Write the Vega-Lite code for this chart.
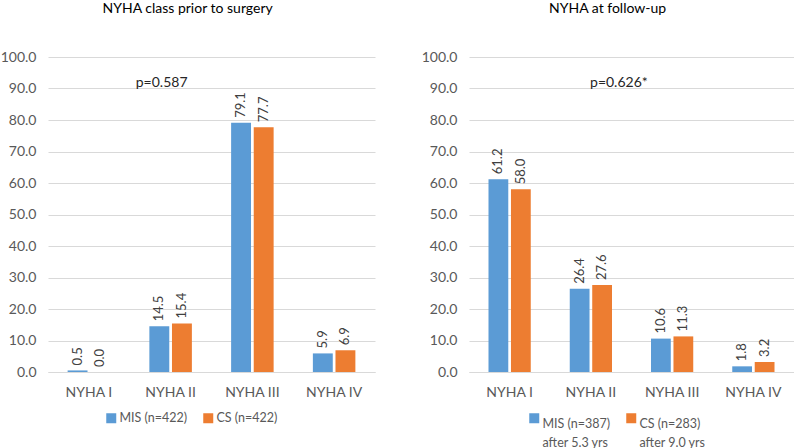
{
  "$schema": "https://vega.github.io/schema/vega-lite/v6.json",
  "background": "white",
  "padding": {"left": 0, "top": 2, "right": 0, "bottom": 0},
  "datasets": {
    "pre": [
      {"cls": "NYHA I", "series": "MIS (n=422)", "value": 0.5},
      {"cls": "NYHA I", "series": "CS (n=422)", "value": 0.0},
      {"cls": "NYHA II", "series": "MIS (n=422)", "value": 14.5},
      {"cls": "NYHA II", "series": "CS (n=422)", "value": 15.4},
      {"cls": "NYHA III", "series": "MIS (n=422)", "value": 79.1},
      {"cls": "NYHA III", "series": "CS (n=422)", "value": 77.7},
      {"cls": "NYHA IV", "series": "MIS (n=422)", "value": 5.9},
      {"cls": "NYHA IV", "series": "CS (n=422)", "value": 6.9}
    ],
    "post": [
      {"cls": "NYHA I", "series": "MIS (n=387)", "value": 61.2},
      {"cls": "NYHA I", "series": "CS (n=283)", "value": 58.0},
      {"cls": "NYHA II", "series": "MIS (n=387)", "value": 26.4},
      {"cls": "NYHA II", "series": "CS (n=283)", "value": 27.6},
      {"cls": "NYHA III", "series": "MIS (n=387)", "value": 10.6},
      {"cls": "NYHA III", "series": "CS (n=283)", "value": 11.3},
      {"cls": "NYHA IV", "series": "MIS (n=387)", "value": 1.8},
      {"cls": "NYHA IV", "series": "CS (n=283)", "value": 3.2}
    ]
  },
  "config": {
    "font": "Lato",
    "view": {"stroke": null},
    "title": {"fontSize": 14, "fontWeight": "normal", "color": "#000000", "font": "Lato", "frame": "bounds", "anchor": "middle", "offset": 34},
    "axis": {"labelFont": "Lato", "labelFontSize": 14, "labelColor": "#595959", "ticks": false, "title": null},
    "legend": {"labelFont": "Lato", "labelFontSize": 12.5, "labelColor": "#595959", "symbolType": "square", "symbolSize": 100, "symbolStrokeWidth": 0, "labelOffset": 2, "columnPadding": 14, "gridAlign": "none", "title": null, "orient": "none", "direction": "horizontal"},
    "style": {"guide-label": {"lineHeight": 19}}
  },
  "spacing": 46,
  "resolve": {"scale": {"color": "independent", "xOffset": "independent", "y": "independent"}, "legend": {"color": "independent"}},
  "hconcat": [
    {
      "title": "NYHA class prior to surgery",
      "width": 327,
      "height": 315,
      "data": {"name": "pre"},
      "encoding": {
        "x": {"field": "cls", "type": "nominal", "scale": {"domain": ["NYHA I", "NYHA II", "NYHA III", "NYHA IV"], "paddingInner": 0.48, "paddingOuter": 0.24}, "axis": {"labelAngle": 0, "labelPadding": 13, "domain": true, "domainColor": "#D9D9D9", "grid": false}},
        "y": {"field": "value", "type": "quantitative", "scale": {"domain": [0, 100]}, "axis": {"values": [0, 10, 20, 30, 40, 50, 60, 70, 80, 90, 100], "format": ".1f", "grid": true, "gridColor": "#D9D9D9", "domain": false, "labelPadding": 12}}
      },
      "layer": [
        {
          "mark": {"type": "bar"},
          "encoding": {
            "xOffset": {"field": "series", "type": "nominal", "scale": {"domain": ["MIS (n=422)", "CS (n=422)"], "paddingInner": 0.12}},
            "color": {"field": "series", "type": "nominal", "scale": {"domain": ["MIS (n=422)", "CS (n=422)"], "range": ["#5B9BD5", "#ED7D31"]}, "legend": {"legendX": 57, "legendY": 355}}
          }
        },
        {
          "mark": {"type": "text", "angle": 270, "align": "left", "baseline": "middle", "dx": 5, "fontSize": 13, "color": "#404040"},
          "encoding": {
            "xOffset": {"field": "series", "type": "nominal", "scale": {"domain": ["MIS (n=422)", "CS (n=422)"], "paddingInner": 0.12}},
            "text": {"field": "value", "type": "quantitative", "format": ".1f"}
          }
        },
        {
          "data": {"values": [{"cls": "NYHA II", "value": 91.6, "t": "p=0.587"}]},
          "mark": {"type": "text", "dx": -9, "fontSize": 14, "fontWeight": "normal", "color": "#262626"},
          "encoding": {"text": {"field": "t"}}
        }
      ]
    },
    {
      "title": "NYHA at follow-up",
      "width": 325,
      "height": 315,
      "data": {"name": "post"},
      "encoding": {
        "x": {"field": "cls", "type": "nominal", "scale": {"domain": ["NYHA I", "NYHA II", "NYHA III", "NYHA IV"], "paddingInner": 0.48, "paddingOuter": 0.24}, "axis": {"labelAngle": 0, "labelPadding": 13, "domain": true, "domainColor": "#D9D9D9", "grid": false}},
        "y": {"field": "value", "type": "quantitative", "scale": {"domain": [0, 100]}, "axis": {"values": [0, 10, 20, 30, 40, 50, 60, 70, 80, 90, 100], "format": ".1f", "grid": true, "gridColor": "#D9D9D9", "domain": false, "labelPadding": 12}}
      },
      "layer": [
        {
          "mark": {"type": "bar"},
          "encoding": {
            "xOffset": {"field": "series", "type": "nominal", "scale": {"domain": ["MIS (n=387)", "CS (n=283)"], "paddingInner": 0.12}},
            "color": {"field": "series", "type": "nominal", "scale": {"domain": ["MIS (n=387)", "CS (n=283)"], "range": ["#5B9BD5", "#ED7D31"]}, "legend": {"legendX": 59, "legendY": 355, "labelExpr": "datum.label == 'MIS (n=387)' ? ['MIS (n=387)', 'after 5.3 yrs'] : ['CS (n=283)', 'after 9.0 yrs']", "labelBaseline": "top"}}
          }
        },
        {
          "mark": {"type": "text", "angle": 270, "align": "left", "baseline": "middle", "dx": 5, "fontSize": 13, "color": "#404040"},
          "encoding": {
            "xOffset": {"field": "series", "type": "nominal", "scale": {"domain": ["MIS (n=387)", "CS (n=283)"], "paddingInner": 0.12}},
            "text": {"field": "value", "type": "quantitative", "format": ".1f"}
          }
        },
        {
          "data": {"values": [{"cls": "NYHA II", "value": 91.6, "t": "p=0.626*"}]},
          "mark": {"type": "text", "dx": 28, "fontSize": 14, "fontWeight": "normal", "color": "#262626"},
          "encoding": {"text": {"field": "t"}}
        }
      ]
    }
  ]
}
